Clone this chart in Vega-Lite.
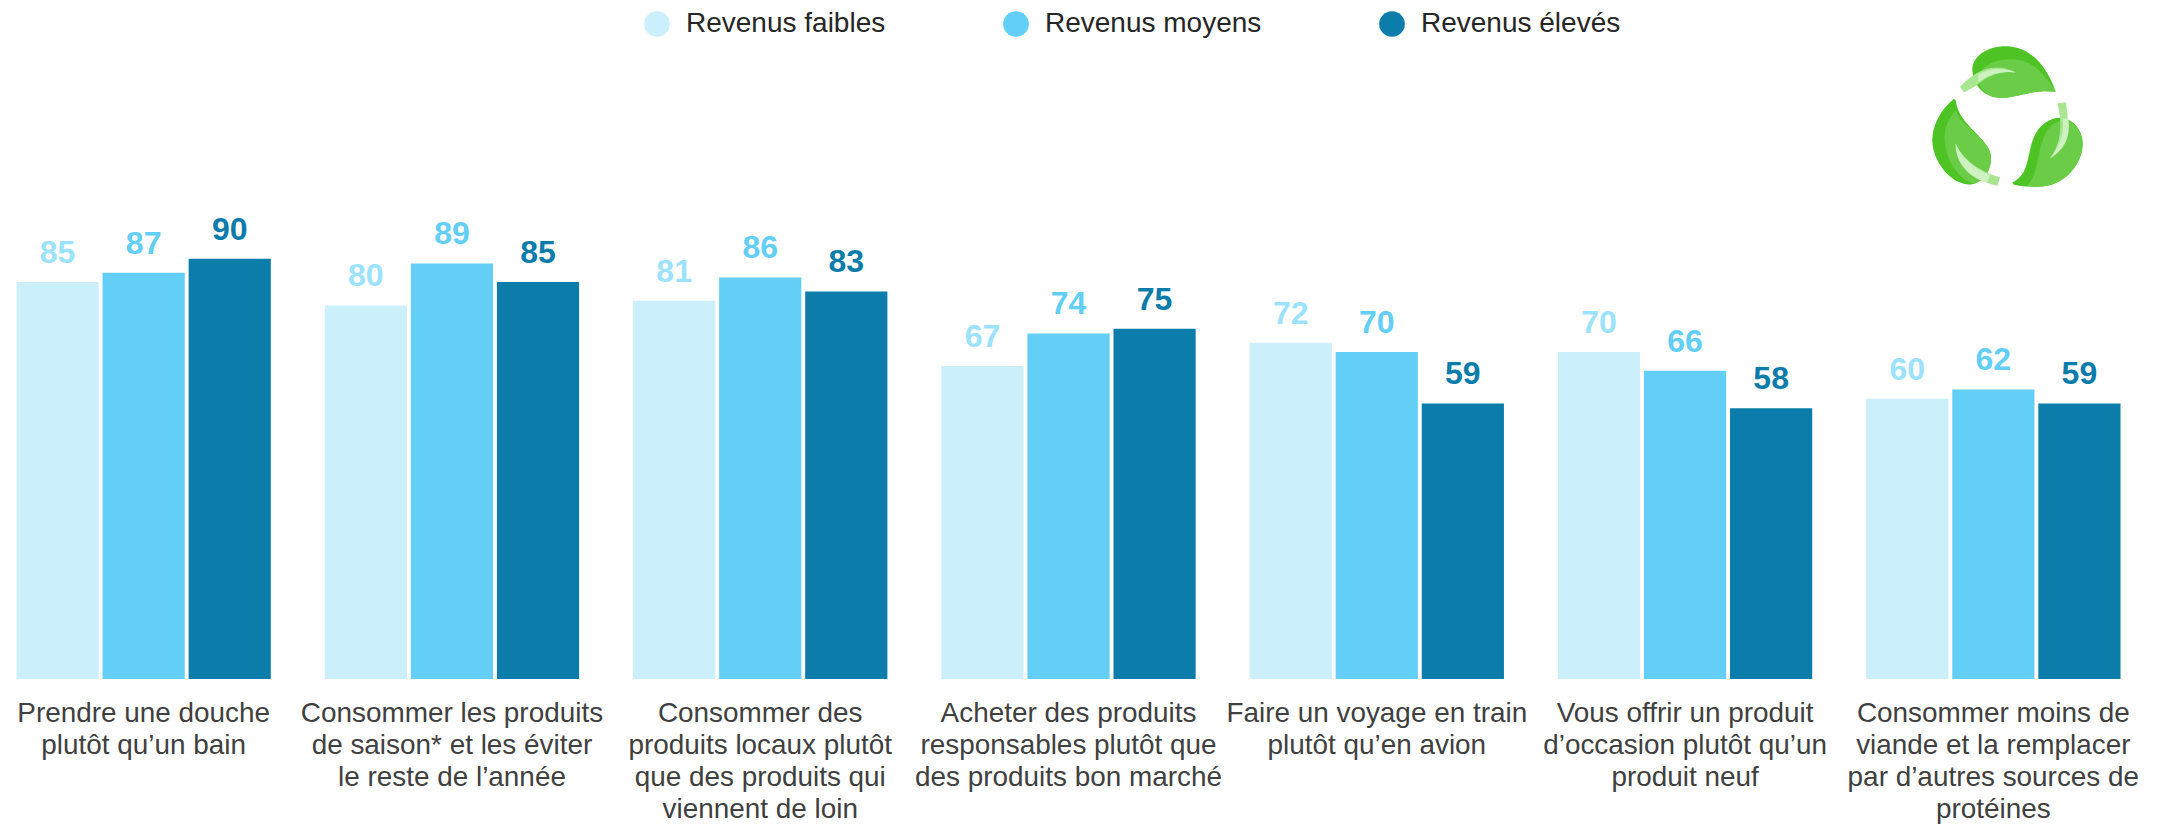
{"$schema":"https://vega.github.io/schema/vega-lite/v6.json","width":2137,"height":679,"autosize":"none","padding":{"left":0,"top":0,"right":22,"bottom":146},"background":"white","config":{"view":{"stroke":null},"font":"Liberation Sans"},
"data":{"values":[
{"action":"Prendre une douche|plutôt qu’un bain","revenu":"Revenus faibles","valeur":85},{"action":"Prendre une douche|plutôt qu’un bain","revenu":"Revenus moyens","valeur":87},{"action":"Prendre une douche|plutôt qu’un bain","revenu":"Revenus élevés","valeur":90},
{"action":"Consommer les produits|de saison* et les éviter|le reste de l’année","revenu":"Revenus faibles","valeur":80},{"action":"Consommer les produits|de saison* et les éviter|le reste de l’année","revenu":"Revenus moyens","valeur":89},{"action":"Consommer les produits|de saison* et les éviter|le reste de l’année","revenu":"Revenus élevés","valeur":85},
{"action":"Consommer des|produits locaux plutôt|que des produits qui|viennent de loin","revenu":"Revenus faibles","valeur":81},{"action":"Consommer des|produits locaux plutôt|que des produits qui|viennent de loin","revenu":"Revenus moyens","valeur":86},{"action":"Consommer des|produits locaux plutôt|que des produits qui|viennent de loin","revenu":"Revenus élevés","valeur":83},
{"action":"Acheter des produits|responsables plutôt que|des produits bon marché","revenu":"Revenus faibles","valeur":67},{"action":"Acheter des produits|responsables plutôt que|des produits bon marché","revenu":"Revenus moyens","valeur":74},{"action":"Acheter des produits|responsables plutôt que|des produits bon marché","revenu":"Revenus élevés","valeur":75},
{"action":"Faire un voyage en train|plutôt qu’en avion","revenu":"Revenus faibles","valeur":72},{"action":"Faire un voyage en train|plutôt qu’en avion","revenu":"Revenus moyens","valeur":70},{"action":"Faire un voyage en train|plutôt qu’en avion","revenu":"Revenus élevés","valeur":59},
{"action":"Vous offrir un produit|d’occasion plutôt qu’un|produit neuf","revenu":"Revenus faibles","valeur":70},{"action":"Vous offrir un produit|d’occasion plutôt qu’un|produit neuf","revenu":"Revenus moyens","valeur":66},{"action":"Vous offrir un produit|d’occasion plutôt qu’un|produit neuf","revenu":"Revenus élevés","valeur":58},
{"action":"Consommer moins de|viande et la remplacer|par d’autres sources de|protéines","revenu":"Revenus faibles","valeur":60},{"action":"Consommer moins de|viande et la remplacer|par d’autres sources de|protéines","revenu":"Revenus moyens","valeur":62},{"action":"Consommer moins de|viande et la remplacer|par d’autres sources de|protéines","revenu":"Revenus élevés","valeur":59}
]},
"encoding":{
"x":{"field":"action","type":"nominal","sort":null,"title":null,"scale":{"paddingInner":0.175,"paddingOuter":0.0535},"axis":{"domain":false,"ticks":false,"labelAngle":0,"labelAlign":"center","labelBaseline":"top","labelFont":"Liberation Sans","labelFontSize":27.9,"labelColor":"#404040","labelPadding":20,"labelLineHeight":32,"labelLimit":400,"labelOverlap":false,"labelExpr":"split(datum.label,'|')"}},
"y":{"field":"valeur","type":"quantitative","title":null,"scale":{"domain":[0,145.4],"nice":false},"axis":null}
},
"layer":[
{"mark":{"type":"bar"},"encoding":{
"xOffset":{"field":"revenu","type":"nominal","sort":["Revenus faibles","Revenus moyens","Revenus élevés"],"scale":{"paddingInner":0.045,"paddingOuter":0}},
"color":{"field":"revenu","type":"nominal","sort":["Revenus faibles","Revenus moyens","Revenus élevés"],"scale":{"domain":["Revenus faibles","Revenus moyens","Revenus élevés"],"range":["#CBEFFB","#63CEF6","#0C7CAA"]},
"legend":{"orient":"none","legendX":643,"legendY":10,"direction":"horizontal","columns":3,"title":null,"symbolType":"circle","symbolSize":660,"symbolStrokeWidth":0,"labelFont":"Liberation Sans","labelFontSize":28,"labelColor":"#262626","labelOffset":15,"columnPadding":116,"gridAlign":"each","labelLimit":400}}}},
{"mark":{"type":"text","font":"Liberation Sans","fontSize":32,"fontWeight":"bold","baseline":"alphabetic","dy":-19},"encoding":{
"xOffset":{"field":"revenu","type":"nominal","sort":["Revenus faibles","Revenus moyens","Revenus élevés"],"scale":{"paddingInner":0.045,"paddingOuter":0}},
"text":{"field":"valeur","type":"quantitative"},
"color":{"field":"revenu","type":"nominal","legend":null,"scale":{"domain":["Revenus faibles","Revenus moyens","Revenus élevés"],"range":["#9DE2FD","#63CEF6","#0C7CAA"]}}}},
{"transform":[{"filter":"datum.valeur==59 && indexof(datum.action,'protéines')>=0"}],"layer":[
{"mark":{"type":"point","filled":true,"size":4444,"opacity":1,"xOffset":14,"fill":"#4DC423","strokeWidth":0,"shape":"M1.45,-.72C1.18,-1.52 .68,-2.07 -.02,-2.09C-.62,-2.1 -1.07,-1.77 -1.05,-1.37C-1.02,-.92 -.72,-.57 -.22,-.54C.28,-.52 .78,-.82 1.45,-.72ZM-1.62,-.5C-2.02,-.17 -2.27,.33 -2.25,.78C-2.22,1.38 -1.72,2.03 -1.17,2.06C-.72,2.06 -.47,1.58 -.49,1.23C-.52,.68 -1.47,.28 -1.54,-.42Q-1.55,-.52 -1.62,-.5ZM.15,2C.68,1.73 .58,1.18 .78,.68C.93,.28 1.28,.06 1.58,.06C1.98,.08 2.26,.43 2.26,.83C2.26,1.38 1.78,2.13 .88,2.13C.63,2.13 .38,2.11 .18,2.06Z"},"encoding":{"y":{"datum":120.6}}},
{"mark":{"type":"point","filled":true,"size":4444,"opacity":1,"xOffset":14,"fill":"#6BCC47","strokeWidth":0,"shape":"M1.45,-.72C1.13,-1.27 .73,-1.7 .13,-1.7C-.32,-1.7 -.67,-1.57 -.9,-1.22C-.9,-.87 -.62,-.55 -.22,-.54C.28,-.52 .78,-.82 1.45,-.72ZM-1.55,-.17C-1.82,.13 -1.92,.48 -1.87,.83C-1.82,1.38 -1.42,1.93 -1.02,2.03C-.67,1.98 -.47,1.58 -.49,1.23C-.52,.68 -1.4,.33 -1.55,-.17ZM.58,2.11C.93,1.78 .88,1.18 1.08,.68C1.18,.38 1.38,.13 1.78,.13C2.08,.23 2.26,.53 2.26,.83C2.26,1.38 1.78,2.13 .88,2.13Z"},"encoding":{"y":{"datum":120.6}}},
{"mark":{"type":"point","filled":true,"size":4444,"opacity":1,"xOffset":14,"fill":"#A8E68F","strokeWidth":0,"shape":"M-1.42,-.87C-1.1,-1.2 -.5,-1.7 .26,-1.3C-.2,-1.36 -.6,-1.2 -.94,-.9L-1.3,-.7ZM-1.55,.83C-1.37,1.28 -.82,1.68 -.22,1.85L-.3,2.1C-.82,1.98 -1.57,1.58 -1.55,.83ZM1.5,-.37L1.75,-.41C1.88,.18 1.83,.88 1.28,1.28C1.58,.88 1.68,.28 1.5,-.37Z"},"encoding":{"y":{"datum":120.6}}},
{"mark":{"type":"point","filled":true,"size":4444,"opacity":1,"xOffset":14,"fill":"#CDF1C0","strokeWidth":0,"shape":"M-.88,-1.24C-.5,-1.45 -.1,-1.45 .26,-1.3C-.2,-1.36 -.55,-1.25 -.86,-1.02ZM-1.55,.83C-1.37,1.28 -.95,1.6 -.52,1.77L-.6,2C-.9,1.95 -1.57,1.58 -1.55,.83ZM1.66,.08L1.83,.08C1.88,.5 1.83,.95 1.28,1.28C1.58,.88 1.72,.5 1.66,.08Z"},"encoding":{"y":{"datum":120.6}}}
]}
],
"resolve":{"scale":{"color":"independent"}}}
